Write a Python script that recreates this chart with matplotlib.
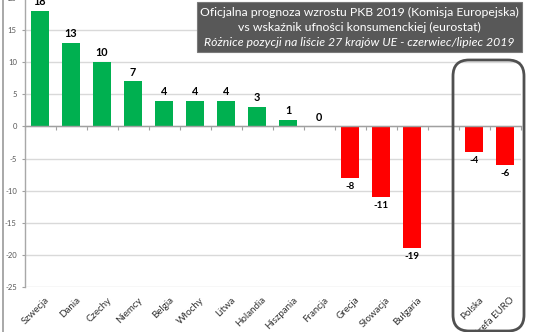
import matplotlib
matplotlib.use("Agg")
import matplotlib.pyplot as plt
from matplotlib.patches import FancyBboxPatch, Rectangle
from matplotlib.lines import Line2D
import numpy as np

# Ranking differences (GDP forecast position vs consumer confidence position)
countries = ["Szwecja", "Dania", "Czechy", "Niemcy", "Belgia", "Włochy", "Litwa",
             "Holandia", "Hiszpania", "Francja", "Grecja", "Słowacja", "Bułgaria"]
country_values = [18, 13, 10, 7, 4, 4, 4, 3, 1, 0, -8, -11, -19]
highlight = ["Polska", "Strefa EURO"]
highlight_values = [-4, -6]

yticks = [-25, -20, -15, -10, -5, 0, 5, 10, 15, 20]
title_lines = ["Oficjalna prognoza wzrostu PKB 2019 (Komisja Europejska)",
               "vs wskaźnik ufności konsumenckiej (eurostat)",
               "Różnice pozycji na liście 27 krajów UE - czerwiec/lipiec 2019"]

GREEN = "#00B050"
RED = "#FF0000"
FONT = "Lato"

W, H = 536, 332
fig = plt.figure(figsize=(W / 100, H / 100), dpi=100)
ax = fig.add_axes([24.5 / W, 45 / H, 496 / W, 289 / H])

labels = countries + [""] + highlight
values = country_values + [np.nan] + highlight_values
x = np.arange(len(labels))

colors = [GREEN if (v == v and v >= 0) else RED for v in values]
ax.bar(x, np.nan_to_num(values), width=0.6, color=colors, zorder=3)

ax.set_xlim(-0.5, len(labels) - 0.5)
ax.set_ylim(-25, 20)
ax.set_yticks(yticks)
ax.set_yticklabels([str(t) for t in yticks], fontsize=5.5, color="#555555", family=FONT)
ax.tick_params(axis="y", length=2.5, width=0.8, color="#a0a0a0", pad=3)
ax.yaxis.grid(True, color="#d9d9d9", linewidth=1.0, zorder=0)

for s in ["top", "right"]:
    ax.spines[s].set_visible(False)
ax.spines["left"].set_color("#a8a8a8")
ax.spines["left"].set_linewidth(1.0)
ax.spines["bottom"].set_position(("data", 0))
ax.spines["bottom"].set_color("#a0a0a0")
ax.spines["bottom"].set_linewidth(1.0)
ax.spines["bottom"].set_zorder(4)
ax.set_xticks(np.arange(len(labels) + 1) - 0.5)
ax.set_xticklabels([])
ax.tick_params(axis="x", length=3, width=0.8, color="#a0a0a0", direction="out")

# category labels below the plot area
for xi, lab in zip(x, labels):
    if lab:
        ax.text(xi + 0.15, -26.3, lab, rotation=45, ha="right", va="top",
                rotation_mode="anchor", fontsize=7.0, color="#333333", family=FONT)

# value labels
for xi, v in zip(x, values):
    if v != v:
        continue
    if v >= 0:
        ax.text(xi, v + 0.6, f"{v:d}", ha="center", va="bottom", fontsize=7.8,
                fontweight="bold", color="black", family=FONT)
    else:
        ax.text(xi, v - 0.6, f"{v:d}", ha="center", va="top", fontsize=7,
                fontweight="bold", color="black", family=FONT)

# title box
box = Rectangle((197 / W, 1 - 52 / H), (522 - 197) / W, 50 / H,
                transform=fig.transFigure, facecolor="#585858",
                edgecolor="#7a7a7a", linewidth=0.8, zorder=5)
fig.patches.append(box)
cx = (197 + 522) / 2 / W
for i, (line, ypx) in enumerate(zip(title_lines, [12, 27.5, 43])):
    fig.text(cx, 1 - ypx / H, line, ha="center", va="center", color="white",
             fontsize=8.8, family=FONT, fontstyle="italic" if i == 2 else "normal",
             zorder=6)

# frame around the comparison group
frame = FancyBboxPatch((453 / W, 1 - 331 / H), (524 - 453) / W, (331 - 60) / H,
                       boxstyle="round,pad=0,rounding_size=0.03",
                       transform=fig.transFigure, facecolor="none",
                       edgecolor="#505050", linewidth=2.0, zorder=6,
                       mutation_aspect=W / H)
fig.patches.append(frame)

# outer chart border on the left
fig.lines.append(Line2D([2.5 / W, 2.5 / W], [0, 1], transform=fig.transFigure,
                        color="#9a9a9a", linewidth=1.2))

fig.savefig("out.png", dpi=100)
